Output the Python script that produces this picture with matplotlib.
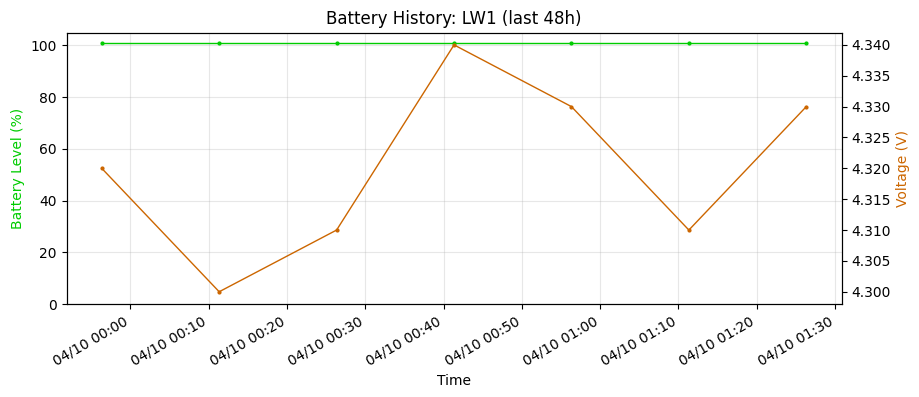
import matplotlib
matplotlib.use("Agg")
import matplotlib.pyplot as plt
import matplotlib.dates as mdates
import pandas as pd

times = pd.to_datetime([
    "2024-04-09 23:56:20", "2024-04-10 00:11:20", "2024-04-10 00:26:20",
    "2024-04-10 00:41:20", "2024-04-10 00:56:20", "2024-04-10 01:11:20",
    "2024-04-10 01:26:20",
])
battery = [101, 101, 101, 101, 101, 101, 101]
voltage = [4.32, 4.30, 4.31, 4.34, 4.33, 4.31, 4.33]

green = "#00cc00"
orange = "#cc6600"

fig, ax = plt.subplots(figsize=(9.19, 3.97), dpi=100)
fig.subplots_adjust(left=0.0724, right=0.9157, top=0.918, bottom=0.234)

ax.plot(times, battery, color=green, marker="o", markersize=2, linewidth=1)
ax.set_ylim(0, 105)
ax.set_ylabel("Battery Level (%)", color=green)
ax.set_xlabel("Time")
ax.grid(True, alpha=0.3)
ax.set_title("Battery History: LW1 (last 48h)")

ax2 = ax.twinx()
ax2.plot(times, voltage, color=orange, marker="o", markersize=2, linewidth=1)
ax2.set_ylabel("Voltage (V)", color=orange)
ax2.yaxis.set_major_formatter(plt.FormatStrFormatter("%.3f"))

ax.xaxis.set_major_locator(mdates.MinuteLocator(byminute=[0, 10, 20, 30, 40, 50]))
ax.xaxis.set_major_formatter(mdates.DateFormatter("%m/%d %H:%M"))
for lbl in ax.get_xticklabels():
    lbl.set_rotation(30)
    lbl.set_ha("right")

fig.savefig("out.png", dpi=100)
